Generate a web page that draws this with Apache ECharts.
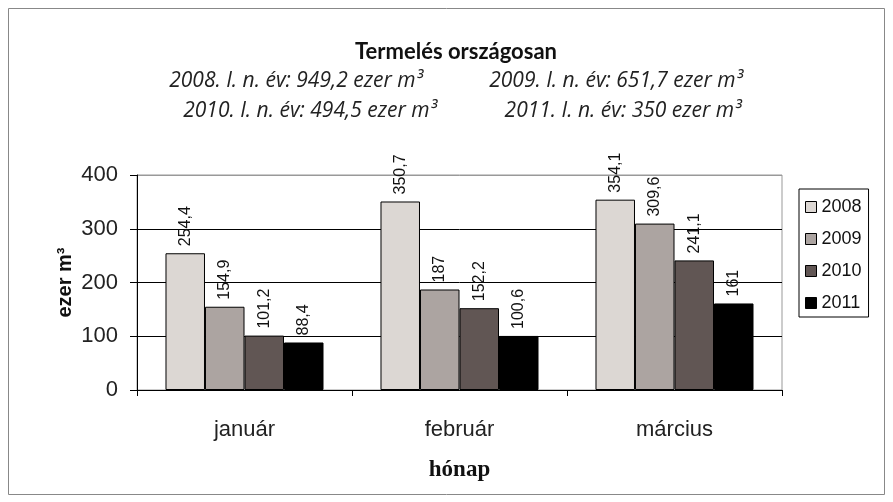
<!DOCTYPE html>
<html>
<head>
<meta charset="utf-8">
<script src="https://cdn.jsdelivr.net/npm/echarts@6/dist/echarts.min.js"></script>
<style>
    html, body { margin: 0; padding: 0; background: #fff; }
    #mychart { width: 893px; height: 502px; }
</style>
</head>
<body>
<div id="mychart"></div>
<script>
    var months = ['január', 'február', 'március']
    var years = ['2008', '2009', '2010', '2011']
    var v2008 = [254.4, 350.7, 354.1]
    var v2009 = [154.9, 187, 309.6]
    var v2010 = [101.2, 152.2, 241.1]
    var v2011 = [88.4, 100.6, 161]
    var yTicks = [0, 100, 200, 300, 400]
    var subtitles = [
        '2008. I. n. év: 949,2 ezer m³', '2009. I. n. év: 651,7 ezer m³',
        '2010. I. n. év: 494,5 ezer m³', '2011. I. n. év: 350 ezer m³'
    ]

    var colors = ['#dcd7d3', '#aca4a1', '#615654', '#000000']
    var values = [v2008, v2009, v2010, v2011]

    var series = []
    for (var i = 0; i < years.length; i++) {
        series.push({
            name: years[i],
            type: 'bar',
            barGap: '0%',
            barCategoryGap: '26.5%',
            itemStyle: { color: colors[i], borderColor: '#000', borderWidth: 1 },
            label: {
                show: true,
                position: 'top',
                rotate: 90,
                align: 'left',
                verticalAlign: 'middle',
                distance: 7,
                fontFamily: 'Liberation Sans',
                fontSize: 16,
                color: '#111',
                formatter: function (p) { return String(p.value).replace('.', ',') }
            },
            data: values[i]
        })
    }

    var subStyle = { fontFamily: 'Open Sans', fontStyle: 'italic', fontWeight: 'normal', fontSize: 21, color: '#222' }
    var chart = echarts.init(document.getElementById('mychart'))
    chart.setOption({
        animation: false,
        backgroundColor: '#fff',
        title: [
            { text: 'Termelés országosan', left: 451, top: 36, textAlign: 'center',
              textStyle: { fontFamily: 'Lato', fontWeight: 'bold', fontSize: 22, color: '#111' } },
            { text: subtitles[0], left: 291, top: 66, textAlign: 'center', textStyle: subStyle },
            { text: subtitles[1], left: 611, top: 66, textAlign: 'center', textStyle: subStyle },
            { text: subtitles[2], left: 305, top: 96, textAlign: 'center', textStyle: subStyle },
            { text: subtitles[3], left: 618, top: 96, textAlign: 'center', textStyle: subStyle }
        ],
        graphic: [{
            type: 'rect',
            shape: { x: 8.5, y: 8.5, width: 876, height: 486 },
            style: { fill: null, stroke: '#888', lineWidth: 1 },
            silent: true
        }],
        legend: {
            data: years,
            orient: 'vertical',
            left: 799,
            top: 189,
            borderColor: '#000',
            borderWidth: 1,
            padding: [9, 7, 5, 6],
            itemGap: 14,
            itemWidth: 11,
            itemHeight: 11,
            icon: 'rect',
            itemStyle: { borderColor: '#000', borderWidth: 1 },
            textStyle: { fontFamily: 'Liberation Sans', fontSize: 18, color: '#111', lineHeight: 18 }
        },
        grid: {
            left: 137,
            right: 111,
            top: 175,
            bottom: 112,
            show: true,
            borderColor: '#999',
            borderWidth: 1
        },
        xAxis: {
            type: 'category',
            data: months,
            name: 'hónap',
            nameLocation: 'middle',
            nameGap: 69,
            nameTextStyle: { fontFamily: 'Liberation Serif', fontWeight: 'bold', fontSize: 23, color: '#111' },
            axisLine: { lineStyle: { color: '#000', width: 1 } },
            axisTick: { show: true, length: 6, lineStyle: { color: '#000' } },
            axisLabel: { margin: 29, fontFamily: 'Liberation Sans', fontSize: 22, color: '#222' }
        },
        yAxis: {
            type: 'value',
            min: yTicks[0],
            max: yTicks[yTicks.length - 1],
            interval: 100,
            name: 'ezer m³',
            nameLocation: 'middle',
            nameGap: 62,
            nameMoveOverlap: false,
            nameTextStyle: { fontFamily: 'Liberation Sans', fontWeight: 'bold', fontSize: 20, color: '#111' },
            axisLine: { show: true, lineStyle: { color: '#000', width: 1 } },
            axisTick: { show: true, length: 7, lineStyle: { color: '#000' } },
            axisLabel: { margin: 19, fontFamily: 'Liberation Sans', fontSize: 22, color: '#222' },
            splitLine: { lineStyle: { color: ['#000', '#000', '#000', '#000', '#999'], width: 1 } }
        },
        series: series
    })
</script>
</body>
</html>
